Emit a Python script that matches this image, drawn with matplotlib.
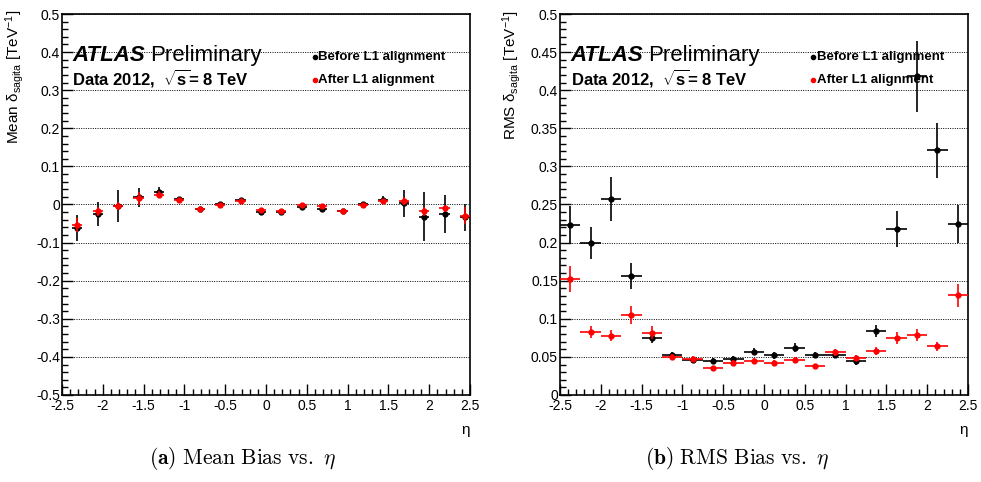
import matplotlib
matplotlib.use("Agg")
import matplotlib.pyplot as plt
from matplotlib.ticker import MultipleLocator, FuncFormatter

plt.rcParams['font.family'] = ['Liberation Sans', 'DejaVu Sans']
plt.rcParams['axes.unicode_minus'] = False
plt.rcParams['mathtext.fontset'] = 'custom'
plt.rcParams['mathtext.rm'] = 'Liberation Sans'
plt.rcParams['mathtext.it'] = 'Liberation Sans:italic'
plt.rcParams['mathtext.bf'] = 'Liberation Sans:bold'

# ---------------- data ----------------
eta_left = [-2.3125, -2.0625, -1.8125, -1.5625, -1.3125, -1.0625, -0.8125, -0.5625,
            -0.3125, -0.0625, 0.1875, 0.4375, 0.6875, 0.9375, 1.1875, 1.4375,
            1.6875, 1.9375, 2.1875, 2.4375]
eta_right = [-2.375, -2.125, -1.875, -1.625, -1.375, -1.125, -0.875, -0.625,
             -0.375, -0.125, 0.125, 0.375, 0.625, 0.875, 1.125, 1.375,
             1.625, 1.875, 2.125, 2.375]
xerr_left = 0.0625
xerr_right = 0.125

mean_before = [-0.062, -0.025, -0.005, 0.019, 0.034, 0.015, -0.012, 0.002, 0.011, -0.020,
               -0.020, -0.007, -0.011, -0.018, 0.001, 0.012, 0.003, -0.032, -0.025, -0.034]
mean_before_err = [0.035, 0.032, 0.042, 0.025, 0.011, 0.005, 0.004, 0.004, 0.004, 0.006,
                   0.005, 0.005, 0.005, 0.004, 0.004, 0.010, 0.035, 0.065, 0.051, 0.035]
mean_after = [-0.054, -0.018, -0.0035, 0.016, 0.026, 0.012, -0.012, 0.0, 0.009, -0.014,
              -0.017, -0.001, -0.0035, -0.018, -0.001, 0.009, 0.009, -0.018, -0.010, -0.029]
mean_after_err = [0.018, 0.012, 0.010, 0.016, 0.010, 0.004, 0.003, 0.003, 0.003, 0.004,
                  0.004, 0.004, 0.004, 0.003, 0.004, 0.006, 0.010, 0.012, 0.010, 0.022]

rms_before = [0.223, 0.199, 0.257, 0.156, 0.075, 0.053, 0.046, 0.045, 0.047, 0.057,
              0.052, 0.062, 0.053, 0.052, 0.044, 0.084, 0.218, 0.418, 0.321, 0.224]
rms_before_err = [0.025, 0.021, 0.029, 0.017, 0.007, 0.004, 0.004, 0.004, 0.004, 0.005,
                  0.005, 0.006, 0.004, 0.004, 0.004, 0.008, 0.024, 0.046, 0.036, 0.025]
rms_after = [0.152, 0.083, 0.078, 0.105, 0.082, 0.050, 0.047, 0.035, 0.042, 0.045,
             0.042, 0.046, 0.038, 0.056, 0.049, 0.058, 0.075, 0.079, 0.064, 0.131]
rms_after_err = [0.017, 0.008, 0.007, 0.012, 0.008, 0.004, 0.004, 0.003, 0.004, 0.004,
                 0.004, 0.004, 0.003, 0.005, 0.004, 0.005, 0.008, 0.008, 0.006, 0.015]

legend_labels = ["Before L1 alignment", "After L1 alignment"]
colors = ["black", "#ff0000"]

# ---------------- figure ----------------
W, H = 981, 482
fig = plt.figure(figsize=(W / 100, H / 100), dpi=100)

def px_axes(x0, x1, y0, y1):
    return fig.add_axes([x0 / W, 1 - y1 / H, (x1 - x0) / W, (y1 - y0) / H])

axL = px_axes(62, 470, 14, 395)
axR = px_axes(560, 968, 14, 395)

fmt = FuncFormatter(lambda v, p: ("%g" % round(v, 4)) if abs(v) > 1e-9 else "0")

def style(ax, ylo, yhi, ymaj, ymin):
    ax.set_xlim(-2.5, 2.5)
    ax.set_ylim(ylo, yhi)
    ax.xaxis.set_major_locator(MultipleLocator(0.5))
    ax.xaxis.set_minor_locator(MultipleLocator(0.1))
    ax.yaxis.set_major_locator(MultipleLocator(ymaj))
    ax.yaxis.set_minor_locator(MultipleLocator(ymin))
    ax.xaxis.set_major_formatter(fmt)
    ax.yaxis.set_major_formatter(fmt)
    ax.tick_params(which='both', direction='in', top=False, right=False,
                   labelsize=10, width=1.0, colors='black')
    ax.tick_params(axis='x', which='major', length=8, pad=3)
    ax.tick_params(axis='x', which='minor', length=4)
    ax.tick_params(axis='y', which='major', length=8, pad=1.5)
    ax.tick_params(axis='y', which='minor', length=4)
    for s in ax.spines.values():
        s.set_linewidth(1.2)
    ax.grid(axis='y', which='major', linestyle=(0, (1, 1.4)), color='black', linewidth=0.7)
    ax.set_axisbelow(True)
    ax.text(1.0, -0.092, "η", transform=ax.transAxes, ha='right', va='center', fontsize=11)

style(axL, -0.5, 0.5, 0.1, 0.02)
style(axR, 0.0, 0.5, 0.05, 0.01)

def draw(ax, x, xe, yb, eb, ya, ea):
    ax.errorbar(x, yb, xerr=xe, yerr=eb, fmt='o', color=colors[0], ms=3.5,
                elinewidth=1.2, capsize=0, zorder=3)
    ax.errorbar(x, ya, xerr=xe, yerr=ea, fmt='o', color=colors[1], ms=3.5,
                elinewidth=1.2, capsize=0, zorder=4)

draw(axL, eta_left, xerr_left, mean_before, mean_before_err, mean_after, mean_after_err)
draw(axR, eta_right, xerr_right, rms_before, rms_before_err, rms_after, rms_after_err)

axL.set_ylabel(r"Mean $\mathrm{δ}_{\mathrm{sagita}}$ [TeV$^{\mathrm{-1}}$]", fontsize=11, loc='top')
axL.yaxis.set_label_coords(-0.088, 1.01)
axR.set_ylabel(r"RMS $\mathrm{δ}_{\mathrm{sagita}}$ [TeV$^{\mathrm{-1}}$]", fontsize=11, loc='top')
axR.yaxis.set_label_coords(-0.09, 1.01)

fig.canvas.draw()
renderer = fig.canvas.get_renderer()

def atlas(ax, x0):
    t = ax.text(x0, 0.877, "ATLAS", transform=ax.transAxes, fontsize=16,
                fontweight='bold', fontstyle='italic', ha='left', va='baseline')
    bb = t.get_window_extent(renderer=renderer)
    axbb = ax.get_window_extent(renderer=renderer)
    xn = (bb.x1 + 5 - axbb.x0) / axbb.width
    ax.text(xn, 0.877, "Preliminary", transform=ax.transAxes, fontsize=16,
            ha='left', va='baseline')
    ax.text(x0, 0.814, r"Data 2012,  $\mathbf{\sqrt{s}}$= 8 TeV", transform=ax.transAxes,
            fontsize=12, fontweight='bold', ha='left', va='baseline')

atlas(axL, 0.0245)
atlas(axR, 0.026)

def legend(ax, xb, xt):
    for lab, c, yy in zip(legend_labels, colors, [0.887, 0.827]):
        ax.plot([xb], [yy], 'o', color=c, ms=3, transform=ax.transAxes, clip_on=False)
        ax.text(xt, yy, lab, transform=ax.transAxes, fontsize=9.5, fontweight='bold',
                ha='left', va='center')

legend(axL, 0.62, 0.628)
legend(axR, 0.619, 0.629)

fig.text(243 / W, 1 - 458 / H, r"$\mathbf{(a)}\ \mathrm{Mean\ Bias\ vs.}\ \eta$", fontsize=15.5,
         math_fontfamily='cm', ha='center', va='center')
fig.text(737 / W, 1 - 458 / H, r"$\mathbf{(b)}\ \mathrm{RMS\ Bias\ vs.}\ \eta$", fontsize=15.5,
         math_fontfamily='cm', ha='center', va='center')

fig.savefig("out.png", dpi=100)
